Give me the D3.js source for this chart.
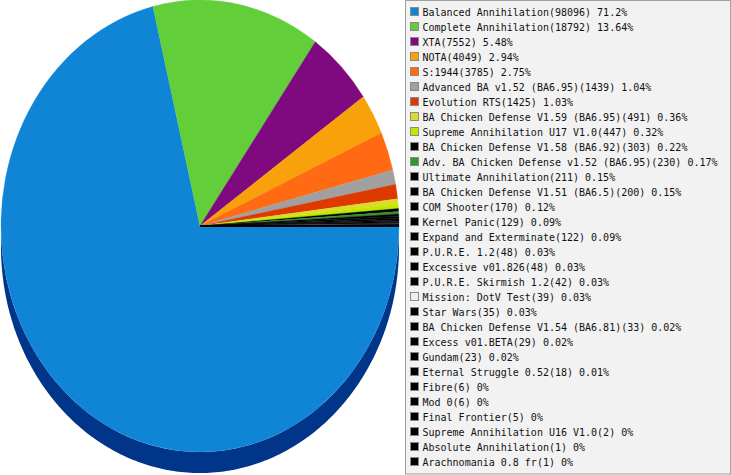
<!DOCTYPE html>
<html>
<head>
<meta charset="utf-8">
<script src="https://cdn.jsdelivr.net/npm/d3@7"></script>
<style>
  html, body { margin: 0; padding: 0; background: #ffffff; }
  svg { display: block; }
</style>
</head>
<body>
<svg id="chart" width="731" height="475"></svg>
<script>
const categories = [
  "Balanced Annihilation", "Complete Annihilation", "XTA", "NOTA", "S:1944",
  "Advanced BA v1.52 (BA6.95)", "Evolution RTS", "BA Chicken Defense V1.59 (BA6.95)",
  "Supreme Annihilation U17 V1.0", "BA Chicken Defense V1.58 (BA6.92)",
  "Adv. BA Chicken Defense v1.52 (BA6.95)", "Ultimate Annihilation",
  "BA Chicken Defense V1.51 (BA6.5)", "COM Shooter", "Kernel Panic",
  "Expand and Exterminate", "P.U.R.E. 1.2", "Excessive v01.826", "P.U.R.E. Skirmish 1.2",
  "Mission: DotV Test", "Star Wars", "BA Chicken Defense V1.54 (BA6.81)",
  "Excess v01.BETA", "Gundam", "Eternal Struggle 0.52", "Fibre", "Mod 0",
  "Final Frontier", "Supreme Annihilation U16 V1.0", "Absolute Annihilation",
  "Arachnomania 0.8 fr"
];
const values = [
  98096, 18792, 7552, 4049, 3785, 1439, 1425, 491, 447, 303, 230, 211, 200, 170, 129,
  122, 48, 48, 42, 39, 35, 33, 29, 23, 18, 6, 6, 5, 2, 1, 1
];
const colors = [
  "#1185d5", "#62cf3a", "#7f0a7f", "#f9a10a", "#ff6a12", "#a0a0a0", "#dc3a00",
  "#dcdc28", "#c0e800", "#000000", "#2e9a2e", "#000000", "#000000", "#000000",
  "#000000", "#000000", "#000000", "#000000", "#000000", "#eeeeee", "#000000",
  "#000000", "#000000", "#000000", "#000000", "#000000", "#000000", "#000000",
  "#000000", "#000000", "#000000"
];
const sideColor = "#00358a";

const svg = d3.select("#chart");
const W = 731, H = 475;

// pie geometry
const cx = 200, cy = 226, rx = 199, ry = 226, depth = 21;
const total = d3.sum(values);
const data = categories.map((c, i) => ({ name: c, value: values[i], color: colors[i] }));

const pie = d3.pie().value(d => d.value).sort(null)
  .startAngle(Math.PI / 2).endAngle(Math.PI / 2 + 2 * Math.PI);
const arcs = pie(data);

// ellipse point for d3 angle convention (0 = 12 o'clock, clockwise)
const ex = a => cx + rx * Math.sin(a);
const ey = a => cy - ry * Math.cos(a);

// side (visible front half only: angles PI/2 .. 3PI/2)
const sideG = svg.append("g");
arcs.forEach(a => {
  const a0 = Math.max(a.startAngle, Math.PI / 2);
  const a1 = Math.min(a.endAngle, 3 * Math.PI / 2);
  if (a1 <= a0) return;
  const n = 200;
  const angs = d3.range(n + 1).map(k => a0 + (a1 - a0) * k / n);
  const p = d3.path();
  p.moveTo(ex(angs[0]), ey(angs[0]));
  angs.forEach(t => p.lineTo(ex(t), ey(t)));
  angs.slice().reverse().forEach(t => p.lineTo(ex(t), ey(t) + depth));
  p.closePath();
  sideG.append("path").attr("d", p.toString()).attr("fill", sideColor);
});

// top face
const arcGen = d3.arc().innerRadius(0).outerRadius(rx);
svg.append("g")
  .attr("transform", `translate(${cx},${cy}) scale(1,${ry / rx})`)
  .selectAll("path")
  .data(arcs)
  .join("path")
  .attr("d", arcGen)
  .attr("fill", d => d.data.color)
  .attr("stroke", d => d.data.color)
  .attr("stroke-width", 0.3);

// legend
const lg = svg.append("g");
lg.append("rect")
  .attr("x", 405.5).attr("y", 0.5)
  .attr("width", 325).attr("height", 473.5)
  .attr("fill", "#f2f2f2").attr("stroke", "#a0a0a0").attr("stroke-width", 1);

const fmtPct = v => String(parseFloat((v / total * 100).toFixed(2)));
const rowH = 15;
const items = lg.selectAll("g.item").data(data).join("g")
  .attr("class", "item")
  .attr("transform", (d, i) => `translate(0,${i * rowH})`);
items.append("rect")
  .attr("x", 410.5).attr("y", 7.5).attr("width", 8).attr("height", 8)
  .attr("fill", d => d.color).attr("stroke", "#8a8a8a").attr("stroke-width", 1);
items.append("text")
  .attr("x", 422.5).attr("y", 16)
  .attr("font-family", "'DejaVu Sans Mono', 'Liberation Mono', monospace")
  .attr("font-size", 10)
  .attr("fill", "#111")
  .text(d => `${d.name}(${d.value}) ${fmtPct(d.value)}%`);
</script>
</body>
</html>
